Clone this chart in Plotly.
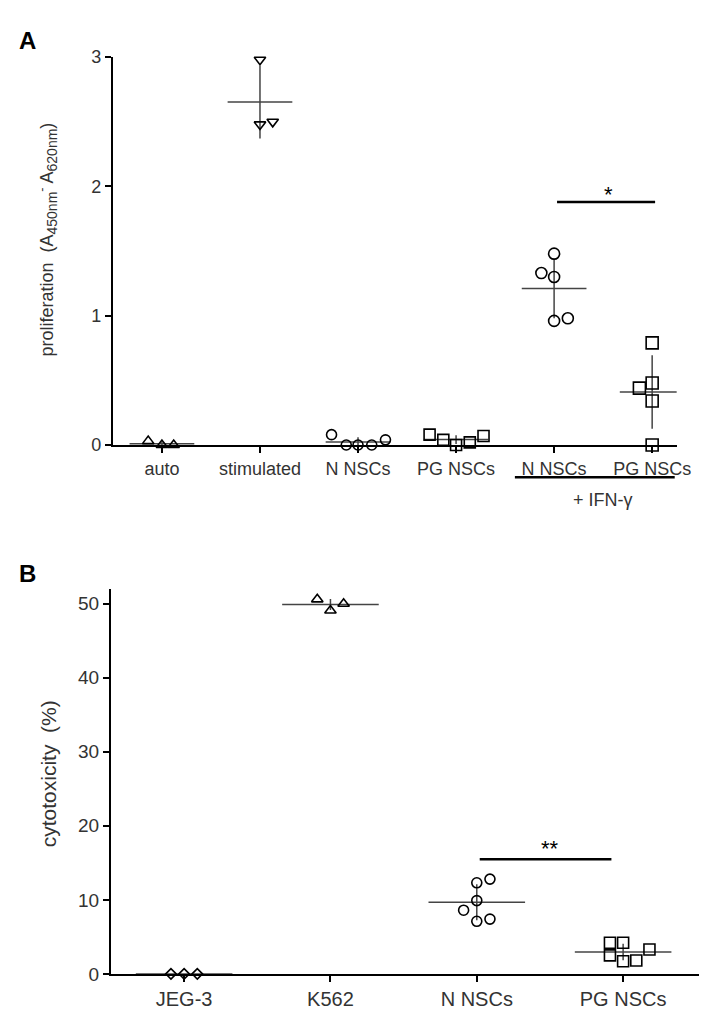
import numpy as np
import plotly.graph_objects as go

# ---------------- data ----------------
cats_a = ["auto", "stimulated", "N NSCs", "PG NSCs", "N NSCs", "PG NSCs"]
auto_vals = [0.03, 0.0, 0.0]
stim_vals = [2.98, 2.48, 2.50]
n_nsc_vals = [0.08, 0.0, 0.0, 0.0, 0.04]
pg_nsc_vals = [0.08, 0.04, 0.0, 0.02, 0.07]
n_nsc_ifn_vals = [1.48, 1.33, 1.30, 0.96, 0.98]
pg_nsc_ifn_vals = [0.79, 0.48, 0.44, 0.34, 0.0]

cats_b = ["JEG-3", "K562", "N NSCs", "PG NSCs"]
jeg3_vals = [0.0, 0.0, 0.0]
k562_vals = [50.6, 49.1, 50.0]
n_nsc_b_vals = [12.3, 12.8, 9.9, 8.6, 7.1, 7.4]
pg_nsc_b_vals = [4.2, 4.2, 2.5, 1.7, 1.8, 3.3]

# ---------------- styling / positions ----------------
jitter_a = [
    [-0.14, 0.0, 0.12],
    [0.0, 0.0, 0.13],
    [-0.27, -0.12, 0.0, 0.14, 0.28],
    [-0.27, -0.13, 0.0, 0.14, 0.28],
    [0.0, -0.13, 0.0, 0.0, 0.14],
    [0.0, 0.0, -0.13, 0.0, 0.0],
]
symbols_a = ["triangle-up-open", "triangle-down-open", "circle-open",
             "square-open", "circle-open", "square-open"]
sizes_a = [10, 10, 10, 11, 11, 12]

jitter_b = [
    [-0.09, 0.0, 0.09],
    [-0.09, 0.0, 0.09],
    [0.0, 0.09, 0.0, -0.09, 0.0, 0.09],
    [-0.09, 0.0, -0.09, 0.0, 0.09, 0.18],
]
symbols_b = ["diamond-open", "triangle-up-open", "circle-open", "square-open"]
sizes_b = [8, 10, 10, 11]

W, H = 716, 1018
FONT = "Liberation Sans, Arial, sans-serif"
TXT = "#333333"
LINE = "#444444"

fig = go.Figure()


def add_group(xc, vals, offs, symbol, size, xa, ya):
    vals = np.asarray(vals, dtype=float)
    m = vals.mean()
    sd = vals.std(ddof=1)
    # mean line
    fig.add_trace(go.Scatter(x=[xc - 0.33, xc + 0.33], y=[m, m], mode="lines",
                             line=dict(color=LINE, width=1.5), xaxis=xa, yaxis=ya,
                             showlegend=False, hoverinfo="skip", cliponaxis=False))
    # SD line
    fig.add_trace(go.Scatter(x=[xc, xc], y=[m - sd, m + sd], mode="lines",
                             line=dict(color=LINE, width=1.5), xaxis=xa, yaxis=ya,
                             showlegend=False, hoverinfo="skip", cliponaxis=False))
    # points
    fig.add_trace(go.Scatter(x=[xc + o for o in offs], y=vals, mode="markers",
                             marker=dict(symbol=symbol, size=size, color="black",
                                         line=dict(color="black", width=1.6)),
                             xaxis=xa, yaxis=ya, showlegend=False, cliponaxis=False))


groups_a = [auto_vals, stim_vals, n_nsc_vals, pg_nsc_vals, n_nsc_ifn_vals, pg_nsc_ifn_vals]
for i, vals in enumerate(groups_a):
    add_group(i, vals, jitter_a[i], symbols_a[i], sizes_a[i], "x", "y")

groups_b = [jeg3_vals, k562_vals, n_nsc_b_vals, pg_nsc_b_vals]
for i, vals in enumerate(groups_b):
    add_group(i, vals, jitter_b[i], symbols_b[i], sizes_b[i], "x2", "y2")

axis_common = dict(showline=True, linewidth=2, linecolor="black", ticks="outside",
                   ticklen=6, tickwidth=2, tickcolor="black", showgrid=False,
                   zeroline=False, fixedrange=True)


def px_x(p):
    return p / W


def px_y(p):
    return 1 - p / H


fig.update_layout(
    width=W, height=H, autosize=False,
    margin=dict(l=0, r=0, t=0, b=0),
    plot_bgcolor="white", paper_bgcolor="white",
    font=dict(family=FONT, color=TXT),
    xaxis=dict(axis_common, domain=[px_x(107), px_x(682)], range=[-0.5, 5.25],
               tickvals=list(range(6)), ticktext=cats_a, anchor="y",
               tickfont=dict(size=18, color=TXT)),
    yaxis=dict(axis_common, domain=[px_y(436), px_y(40)], range=[0, 3],
               tickvals=[0, 1, 2, 3], anchor="x",
               tickfont=dict(size=18, color=TXT)),
    xaxis2=dict(axis_common, domain=[px_x(105), px_x(705)], range=[-0.5, 3.52],
                tickvals=list(range(4)), ticktext=cats_b, anchor="y2",
                tickfont=dict(size=20, color=TXT)),
    yaxis2=dict(axis_common, domain=[px_y(976), px_y(583)], range=[0, 52],
                tickvals=[0, 10, 20, 30, 40, 50], anchor="x2",
                tickfont=dict(size=19, color=TXT)),
)

# axis titles
fig.add_annotation(xref="paper", yref="paper", x=px_x(40), y=px_y(226),
                   xanchor="center", yanchor="middle",
                   text=("proliferation  (A<sub><span style='font-size:14px'>450nm</span></sub>"
                         "<sup>-</sup> A<sub><span style='font-size:14px'>620nm</span></sub>)"),
                   textangle=-90, showarrow=False, font=dict(size=18, color=TXT))
fig.add_annotation(xref="paper", yref="paper", x=px_x(41), y=px_y(772),
                   xanchor="center", yanchor="middle",
                   text="cytotoxicity  (%)", textangle=-90, showarrow=False,
                   font=dict(size=21, color=TXT))

# significance bars
fig.add_shape(type="line", xref="x", yref="y", x0=4.03, x1=5.03, y0=1.88, y1=1.88,
              line=dict(color="black", width=2.5))
fig.add_annotation(xref="x", yref="y", x=4.55, y=1.88, text="*", showarrow=False,
                   yanchor="bottom", font=dict(size=22, color="black"), yshift=-7)
fig.add_shape(type="line", xref="x2", yref="y2", x0=2.02, x1=2.92, y0=15.5, y1=15.5,
              line=dict(color="black", width=2.5))
fig.add_annotation(xref="x2", yref="y2", x=2.5, y=15.5, text="**", showarrow=False,
                   yanchor="bottom", font=dict(size=22, color="black"), yshift=-4)

# IFN bracket
fig.add_shape(type="line", xref="x", yref="paper", x0=3.6, x1=5.23,
              y0=px_y(469), y1=px_y(469), line=dict(color="black", width=2.5))
fig.add_annotation(xref="x", yref="paper", x=4.5, y=px_y(492), text="+ IFN-γ",
                   showarrow=False, font=dict(size=18, color=TXT))

# panel labels
fig.add_annotation(xref="paper", yref="paper", x=px_x(9), y=px_y(23), text="<b>A</b>",
                   showarrow=False, xanchor="left", yanchor="middle",
                   font=dict(size=24, color="black"))
fig.add_annotation(xref="paper", yref="paper", x=px_x(9), y=px_y(567), text="<b>B</b>",
                   showarrow=False, xanchor="left", yanchor="middle",
                   font=dict(size=24, color="black"))

fig.write_html("out.html")
